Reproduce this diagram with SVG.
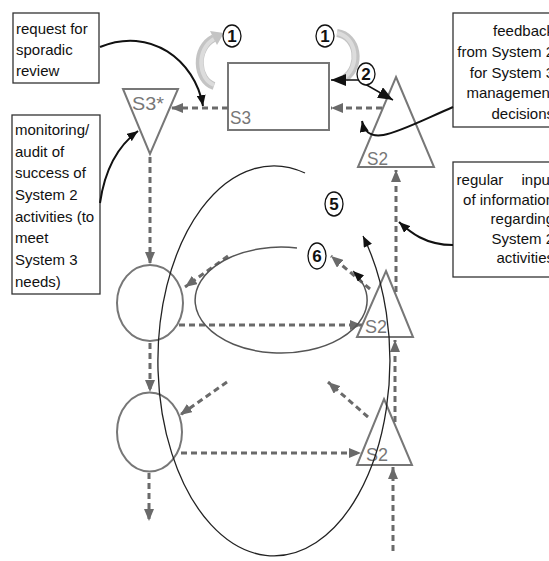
<svg xmlns="http://www.w3.org/2000/svg" width="549" height="561" viewBox="0 0 549 561">
<defs>
<style>
.box{fill:#fff;stroke:#333;stroke-width:1.3}
.lbl{font-family:"Liberation Sans",Arial,sans-serif;font-size:15px;fill:#111}
.shape{fill:none;stroke:#777;stroke-width:2}
.sname{font-family:"Liberation Sans",Arial,sans-serif;font-size:19px;fill:#777}
.dash{fill:none;stroke:#6a6a6a;stroke-width:3;stroke-dasharray:6 4;marker-end:url(#ga)}
.blk{fill:none;stroke:#111;stroke-width:2}
.num{fill:#fff;stroke:#111;stroke-width:1.3}
.numt{font-family:"Liberation Sans",Arial,sans-serif;font-size:17px;font-weight:bold;fill:#111;text-anchor:middle}
.garc{fill:none;stroke:#c4c4c4;stroke-width:8}
.garc2{fill:none;stroke:#dcdcdc;stroke-width:4}
</style>
<marker id="ga" markerUnits="userSpaceOnUse" markerWidth="12" markerHeight="10" refX="12" refY="5" orient="auto"><path d="M0,0 L12,5 L0,10 z" fill="#6a6a6a"/></marker>
<marker id="ba" markerUnits="userSpaceOnUse" markerWidth="11" markerHeight="9" refX="11" refY="4.5" orient="auto"><path d="M0,0 L11,4.5 L0,9 z" fill="#111"/></marker>
<marker id="bb" markerUnits="userSpaceOnUse" markerWidth="15" markerHeight="12" refX="15" refY="6" orient="auto-start-reverse"><path d="M0,0 L15,6 L0,12 z" fill="#111"/></marker>
</defs>
<rect width="549" height="561" fill="#fff"/>

<g id="box-request">
<rect class="box" x="13" y="13" width="86" height="70"/>
<text class="lbl" x="16" y="34">request for</text>
<text class="lbl" x="16" y="55">sporadic</text>
<text class="lbl" x="16" y="76">review</text>
</g>
<g id="box-monitoring">
<rect class="box" x="12" y="115" width="88" height="179"/>
<text class="lbl" x="15" y="135">monitoring/</text>
<text class="lbl" x="15" y="157">audit of</text>
<text class="lbl" x="15" y="178">success of</text>
<text class="lbl" x="15" y="200">System 2</text>
<text class="lbl" x="15" y="222">activities (to</text>
<text class="lbl" x="15" y="243">meet</text>
<text class="lbl" x="15" y="265">System 3</text>
<text class="lbl" x="15" y="287">needs)</text>
</g>
<g id="box-feedback">
<rect class="box" x="453" y="13" width="110" height="114"/>
<g text-anchor="end">
<text class="lbl" x="554" y="36">feedback</text>
<text class="lbl" x="554" y="57">from System 2</text>
<text class="lbl" x="554" y="78">for System 3</text>
<text class="lbl" x="554" y="98">management</text>
<text class="lbl" x="554" y="119">decisions</text>
</g>
</g>
<g id="box-regular">
<rect class="box" x="453" y="162" width="110" height="115"/>
<g text-anchor="end">
<text class="lbl" x="554" y="185" word-spacing="14">regular input</text>
<text class="lbl" x="554" y="205">of information</text>
<text class="lbl" x="554" y="224">regarding</text>
<text class="lbl" x="554" y="244">System 2</text>
<text class="lbl" x="554" y="263">activities</text>
</g>
</g>

<g id="s3">
<rect class="shape" x="228" y="63" width="101" height="67"/>
<text class="sname" x="230" y="124" font-size="21" textLength="21" lengthAdjust="spacingAndGlyphs">S3</text>
</g>
<g id="s3star">
<polygon class="shape" points="123,89 178,89 150,154"/>
<text class="sname" x="132" y="110" font-size="18" textLength="32" lengthAdjust="spacingAndGlyphs">S3*</text>
</g>
<g id="s2-top">
<polygon class="shape" points="396,77 434,167 358,167"/>
<text class="sname" x="367" y="165" textLength="21" lengthAdjust="spacingAndGlyphs">S2</text>
</g>
<g id="s2-mid">
<polygon class="shape" points="386,271 413,337 357,337"/>
<text class="sname" x="365" y="333" textLength="22" lengthAdjust="spacingAndGlyphs">S2</text>
</g>
<g id="s2-low">
<polygon class="shape" points="384,399 412,465 357,465"/>
<text class="sname" x="366" y="461" textLength="22" lengthAdjust="spacingAndGlyphs">S2</text>
</g>
<g id="op1">
<ellipse class="shape" cx="150" cy="303" rx="33" ry="38"/>
</g>
<g id="op2">
<ellipse class="shape" cx="149.5" cy="432" rx="32.5" ry="39.5"/>
</g>

<g id="connectors">
<path class="dash" d="M228,108 L171,108"/>
<path class="dash" d="M382,108 L331,108"/>
<path class="dash" d="M150,157 L150,264"/>
<path class="dash" d="M150,343 L150,392"/>
<path class="dash" d="M149,473 L149,521"/>
<path class="dash" d="M179,325 L362,325"/>
<path class="dash" d="M181,453 L361,453"/>
<path class="dash" d="M396,292 L396,170"/>
<path class="dash" d="M395,422 L395,340"/>
<path class="dash" d="M393,551 L393,467"/>
<path class="dash" d="M370,289 L331,256"/>
<path class="dash" d="M368,417 L328,382"/>
<path class="dash" d="M228,256 L185,287"/>
<path class="dash" d="M227,382 L180,415"/>

<path class="blk" d="M100,47 C150,26 195,60 203,106" marker-end="url(#ba)"/>
<path class="blk" d="M100,203 C104,175 115,148 138,131" marker-end="url(#ba)"/>
<path class="blk" d="M453,107 C400,130 368,150 362,121" marker-end="url(#ba)"/>
<path class="blk" d="M453,245 C425,245 410,232 399,222" marker-end="url(#ba)"/>

<path fill="none" stroke="#222" stroke-width="1.3" d="M305,173 A116,195 0 1 0 363,236" marker-end="url(#ba)"/>
<path fill="none" stroke="#555" stroke-width="1.5" d="M297,248 A86,53 0 1 0 353,271" marker-end="url(#ba)"/>

<path class="garc" d="M214,86 C196,80 194,48 214,38"/>
<path class="garc2" d="M214,85 C198,79 196,49 214,39"/>
<polygon points="224,33 217,45 210,31" fill="#c4c4c4"/>
<path class="garc" d="M337,33 C358,36 362,66 345,78"/>
<path class="garc2" d="M337,33 C357,37 360,65 345,77"/>

<path fill="none" stroke="#111" stroke-width="1.5" d="M331,80 L358,80 L393,100" marker-start="url(#bb)" marker-end="url(#bb)"/>
</g>

<g id="num1a"><ellipse class="num" cx="232" cy="36" rx="9" ry="11"/><text class="numt" x="232" y="42">1</text></g>
<g id="num1b"><ellipse class="num" cx="325" cy="36" rx="9" ry="11"/><text class="numt" x="325" y="42">1</text></g>
<g id="num2"><ellipse class="num" cx="366" cy="74" rx="9" ry="11"/><text class="numt" x="366" y="80">2</text></g>
<g id="num5"><ellipse class="num" cx="334" cy="204" rx="9" ry="12"/><text class="numt" x="334" y="210">5</text></g>
<g id="num6"><ellipse class="num" cx="317" cy="256" rx="9" ry="13"/><text class="numt" x="317" y="262">6</text></g>
</svg>
